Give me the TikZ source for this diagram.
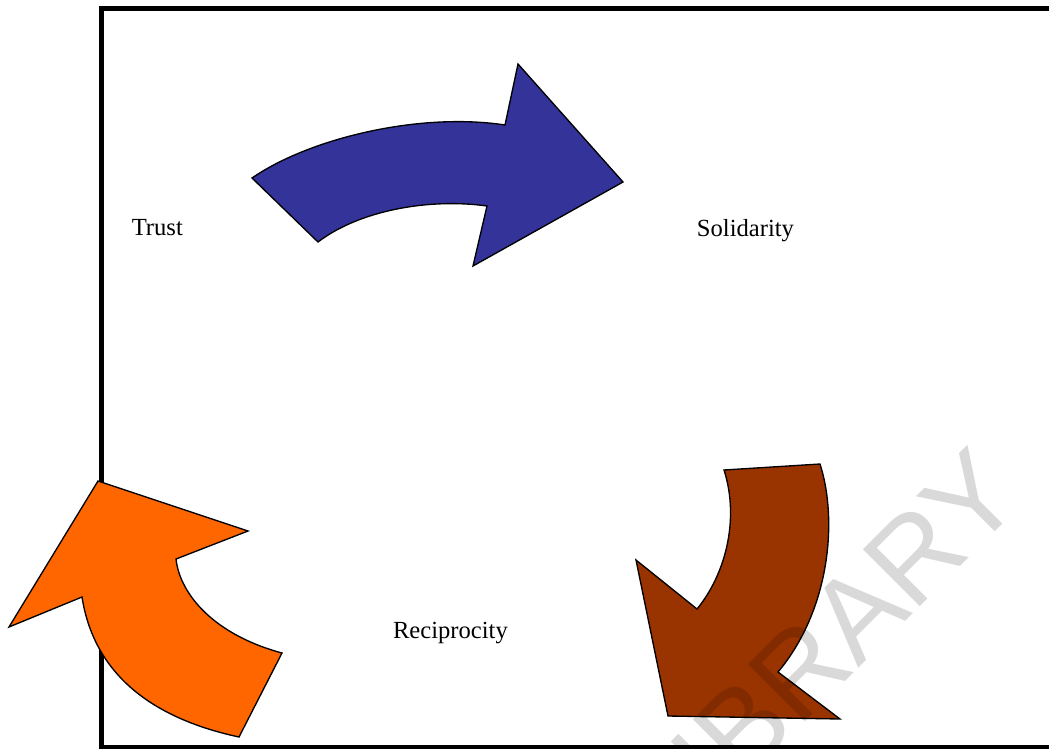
\documentclass[tikz,border=0pt]{standalone}
\usepackage{fontspec}
\setmainfont{Liberation Serif}
\newfontfamily\wmfont{Liberation Sans}
\definecolor{blueA}{HTML}{333399}
\definecolor{brownA}{HTML}{993300}
\definecolor{orangeA}{HTML}{FF6600}
\begin{document}
\begin{tikzpicture}[x=0.75pt,y=-0.75pt,
  arrowshape/.style={draw=black,line width=1pt,line join=miter},
  lbl/.style={font=\fontsize{18.45}{20}\selectfont, inner sep=0pt, anchor=base},
  frame/.style={draw=black,line width=3.2pt}]
\useasboundingbox (0,0) rectangle (1049,749);
\clip (0,0) rectangle (1049,749);
\fill[white] (0,0) rectangle (1049,749);
% frame
\draw[frame] (1065,8.5) -- (101.5,8.5) -- (101.5,747.5) -- (1065,747.5);
% blue arrow: Trust -> Solidarity
\filldraw[arrowshape, fill=blueA] (252,178) .. controls (310,138) and (420,112) .. (505,125) -- (518,64) -- (623,182) -- (473,266) -- (487,206) .. controls (430,198) and (360,210) .. (318,242) -- cycle;
% brown arrow: Solidarity -> Reciprocity
\filldraw[arrowshape, fill=brownA] (724,470) -- (820,464) .. controls (838,520) and (830,610) .. (778,672) -- (840,719) -- (668,716) -- (636,560) -- (697,609) .. controls (725,575) and (740,520) .. (724,470) -- cycle;
% orange arrow: Reciprocity -> Trust
\filldraw[arrowshape, fill=orangeA] (98,481) -- (248,531) -- (176,559) .. controls (180,595) and (215,635) .. (282,653) -- (239,737) .. controls (160,720) and (95,680) .. (82,597) -- (9,627) -- cycle;
% labels
\node[lbl] (trust) at (157.3,235.5) {Trust};
\node[lbl] (solid) at (745.5,236.5) {Solidarity};
\node[lbl] (recip) at (450.4,638.5) {Reciprocity};
% watermark
\node[rotate=45, inner sep=0pt, text=black, text opacity=0.15,
  font=\wmfont\fontsize{87.75}{90}\selectfont] (wm) at (822,648) {LIBRARY};
\end{tikzpicture}
\end{document}
